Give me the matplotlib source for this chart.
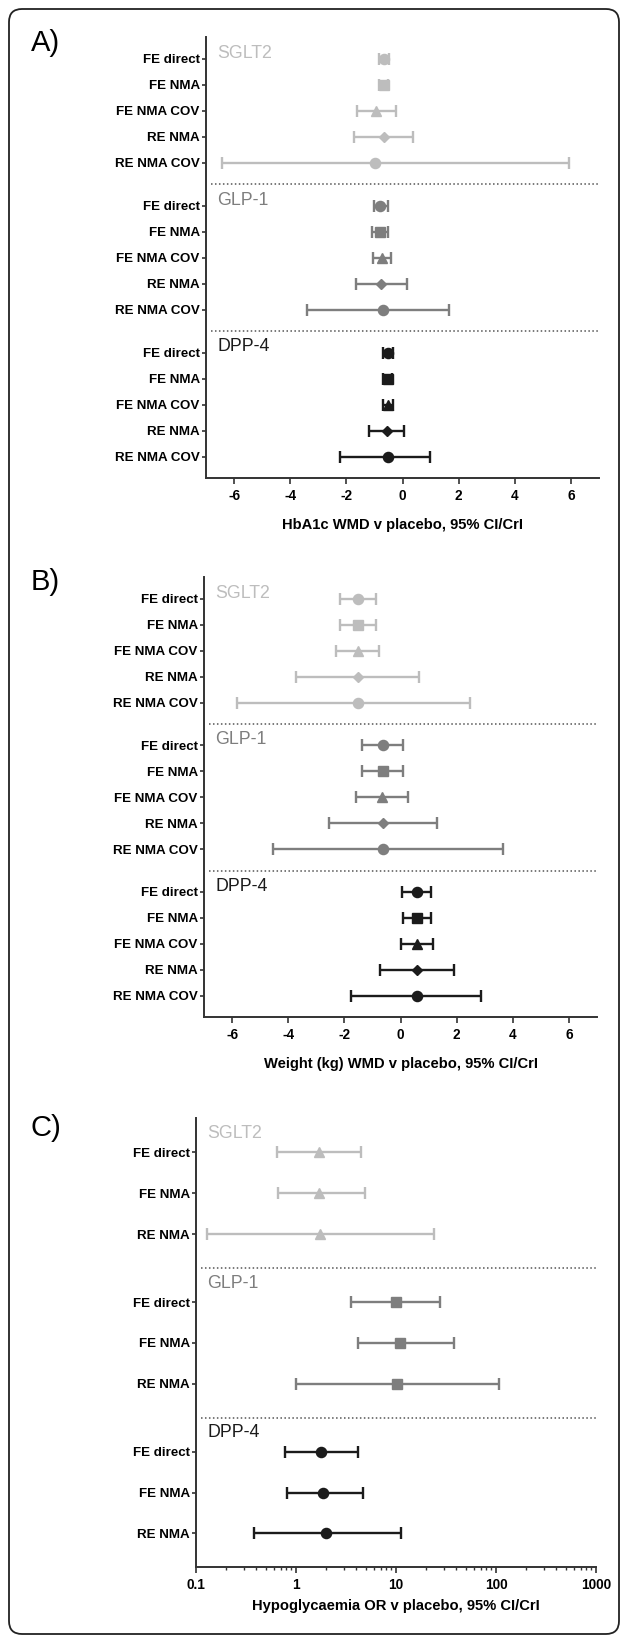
import numpy as np
import matplotlib.pyplot as plt
from matplotlib import font_manager
from matplotlib.patches import FancyBboxPatch
from matplotlib.ticker import FixedLocator, LogLocator, NullFormatter

plt.rcParams['font.family'] = ['Liberation Sans', 'DejaVu Sans']

# row labels in the original are a condensed bold face
names = {f.name for f in font_manager.fontManager.ttflist}
if 'Liberation Sans Narrow' in names:
    row_font, row_size = ['Liberation Sans Narrow', 'Liberation Sans'], 11.3
else:
    row_font, row_size = ['Liberation Sans', 'DejaVu Sans'], 9.6

drugs = ['SGLT2', 'GLP-1', 'DPP-4']
drug_colors = ['#bdbdbd', '#7e7e7e', '#1b1b1b']

wmd_rows = ['FE direct', 'FE NMA', 'FE NMA COV', 'RE NMA', 'RE NMA COV']
wmd_markers = ['o', 's', '^', 'D', 'o']

# (estimate, lower, upper)
hba1c_sglt2 = [(-0.66, -0.84, -0.48), (-0.66, -0.82, -0.50), (-0.93, -1.61, -0.24),
               (-0.67, -1.71, 0.36), (-0.99, -6.43, 5.93)]
hba1c_glp1 = [(-0.79, -1.03, -0.50), (-0.79, -1.07, -0.50), (-0.73, -1.04, -0.41),
              (-0.77, -1.67, 0.16), (-0.70, -3.40, 1.64)]
hba1c_dpp4 = [(-0.53, -0.71, -0.35), (-0.53, -0.70, -0.36), (-0.53, -0.71, -0.33),
              (-0.56, -1.19, 0.04), (-0.51, -2.24, 0.97)]

weight_sglt2 = [(-1.52, -2.17, -0.88), (-1.52, -2.17, -0.88), (-1.52, -2.29, -0.78),
                (-1.52, -3.72, 0.67), (-1.52, -5.81, 2.46)]
weight_glp1 = [(-0.63, -1.37, 0.09), (-0.63, -1.37, 0.09), (-0.66, -1.57, 0.27),
               (-0.63, -2.55, 1.30), (-0.63, -4.54, 3.66)]
weight_dpp4 = [(0.58, 0.07, 1.08), (0.58, 0.10, 1.10), (0.58, 0.03, 1.15),
               (0.58, -0.73, 1.89), (0.58, -1.77, 2.86)]

hypo_rows = ['FE direct', 'FE NMA', 'RE NMA']
hypo_markers = ['^', 's', 'o']  # one per drug
hypo_sglt2 = [(1.69, 0.65, 4.45), (1.71, 0.66, 4.88), (1.74, 0.129, 24.0)]
hypo_glp1 = [(10.0, 3.53, 27.8), (10.9, 4.17, 38.0), (10.2, 0.99, 107.0)]
hypo_dpp4 = [(1.77, 0.78, 4.13), (1.85, 0.81, 4.70), (1.98, 0.377, 11.1)]

msize = {'o': 7.3, 's': 7.5, '^': 7.8, 'D': 5.2}
W, H = 627, 1638
fig = plt.figure(figsize=(W / 100, H / 100), dpi=100)


def px_axes(left, right, top, bottom):
    return fig.add_axes([left / W, 1 - bottom / H, (right - left) / W, (bottom - top) / H])


def forest(ax, groups, rows, markers, gap, label_off, per_drug=False):
    n = len(rows)
    step = n + gap
    yt, yl = [], []
    for g, data in enumerate(groups):
        y0 = g * step
        for i, (est, lo, hi) in enumerate(data):
            y = y0 + i
            m = markers[g] if per_drug else markers[i]
            ax.errorbar(est, y, xerr=[[est - lo], [hi - est]], fmt=m, color=drug_colors[g],
                        ms=msize[m], capsize=4, elinewidth=1.7, capthick=1.7, zorder=3)
            yt.append(y)
            yl.append(rows[i])
        ax.text(0.028, y0 - label_off, drugs[g], color=drug_colors[g], fontsize=12.8,
                va='center', ha='left', transform=ax.get_yaxis_transform())
        if g > 0:
            ax.axhline(y0 - gap / 2 - 0.5, xmin=0.013, xmax=1, color='#555555',
                       ls=(0, (1, 1.6)), lw=1.1)
    last = (len(groups) - 1) * step + n - 1
    ax.set_ylim(last + 0.82, -0.84)
    ax.set_yticks(yt)
    ax.set_yticklabels(yl, fontweight='bold', fontsize=row_size, family=row_font)
    for s in ['top', 'right']:
        ax.spines[s].set_visible(False)
    for s in ['left', 'bottom']:
        ax.spines[s].set_linewidth(1.4)
        ax.spines[s].set_color('#333333')
    ax.tick_params(axis='y', length=3, width=1.2, pad=1.5, color='#333333')
    ax.tick_params(axis='x', length=4, width=1.2, pad=4, color='#333333')


wmd_ticks = np.arange(-6, 7, 2)

# panel A
axA = px_axes(206, 599, 37, 478)
forest(axA, [hba1c_sglt2, hba1c_glp1, hba1c_dpp4], wmd_rows, wmd_markers, 0.65, 0.22)
axA.set_xlim(-7, 7)
axA.set_xticks(wmd_ticks)
axA.set_xticklabels([str(v) for v in wmd_ticks], fontweight='bold', fontsize=9.8)
axA.set_xlabel('HbA1c WMD v placebo, 95% CI/CrI', fontweight='bold', fontsize=10.6)
axA.xaxis.set_label_coords(0.5, -0.09)

# panel B
axB = px_axes(204, 597, 577, 1017)
forest(axB, [weight_sglt2, weight_glp1, weight_dpp4], wmd_rows, wmd_markers, 0.65, 0.22)
axB.set_xlim(-7, 7)
axB.set_xticks(wmd_ticks)
axB.set_xticklabels([str(v) for v in wmd_ticks], fontweight='bold', fontsize=9.8)
axB.set_xlabel('Weight (kg) WMD v placebo, 95% CI/CrI', fontweight='bold', fontsize=10.6)
axB.xaxis.set_label_coords(0.5, -0.09)

# panel C
axC = px_axes(196, 596, 1118, 1567)
forest(axC, [hypo_sglt2, hypo_glp1, hypo_dpp4], hypo_rows, hypo_markers, 0.66, 0.46,
       per_drug=True)
axC.set_xscale('log')
axC.set_xlim(0.1, 1000)
axC.xaxis.set_major_locator(FixedLocator([0.1, 1, 10, 100, 1000]))
axC.set_xticklabels(['0.1', '1', '10', '100', '1000'], fontweight='bold', fontsize=9.8)
axC.xaxis.set_minor_locator(LogLocator(base=10, subs=np.arange(2, 10)))
axC.xaxis.set_minor_formatter(NullFormatter())
axC.tick_params(axis='x', which='minor', length=2.5, width=1, color='#333333')
axC.set_xlabel('Hypoglycaemia OR v placebo, 95% CI/CrI', fontweight='bold', fontsize=10.6)
axC.xaxis.set_label_coords(0.5, -0.071)

for lab, ypx in [('A)', 43), ('B)', 582), ('C)', 1128)]:
    fig.text(31 / W, 1 - ypx / H, lab, fontsize=21, va='center', ha='left')

frame = FancyBboxPatch((0.09, 0.04), 6.10, 16.25, boxstyle='round,pad=0,rounding_size=0.13',
                       transform=fig.dpi_scale_trans, fill=False, lw=1.3, ec='#222222')
fig.add_artist(frame)

fig.savefig('out.png', dpi=100)
